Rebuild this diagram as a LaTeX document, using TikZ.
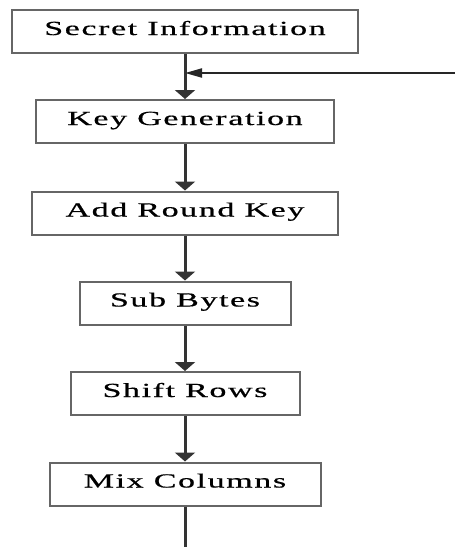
\documentclass[tikz,border=0pt]{standalone}
\usepackage{fontspec}
\setmainfont{Liberation Serif}
\newfontfamily\boxfont[FakeStretch=1.7,LetterSpace=8,FakeBold=0.6]{Liberation Serif}
\usetikzlibrary{arrows.meta}
\tikzset{
  stage/.style={draw=black!60, line width=2pt, rectangle, inner sep=0pt,
    minimum height=43pt, text height=15pt, text depth=8pt,
    font=\boxfont\fontsize{20}{24}\selectfont},
  flow/.style={draw=black!80, line width=3pt, -{Triangle[width=20pt,length=9pt]}},
  feed/.style={draw=black!85, line width=2pt, -{Triangle[width=9pt,length=17pt]}},
}
\begin{document}
\begin{tikzpicture}[x=1pt,y=-1pt]
\useasboundingbox (0,0) rectangle (455,547);
\node[stage, minimum width=346pt] (b1) at (185,31.5) {Secret Information};
\node[stage, minimum width=298pt] (b2) at (185,121.5) {Key Generation};
\node[stage, minimum width=306pt] (b3) at (185,213) {Add Round Key};
\node[stage, minimum width=211pt] (b4) at (185,303) {Sub Bytes};
\node[stage, minimum width=229pt] (b5) at (185,393.5) {Shift Rows};
\node[stage, minimum width=271pt] (b6) at (185,484) {Mix Columns};
\coordinate (feedin) at (455,73);
\coordinate (tail) at (185,547);
\draw[flow] (b1.south) -- (b2.north);
\draw[feed] (feedin) -- (b1.south |- feedin);
\draw[flow] (b2.south) -- (b3.north);
\draw[flow] (b3.south) -- (b4.north);
\draw[flow] (b4.south) -- (b5.north);
\draw[flow] (b5.south) -- (b6.north);
\draw[flow, -] (b6.south) -- (tail);
\end{tikzpicture}
\end{document}
